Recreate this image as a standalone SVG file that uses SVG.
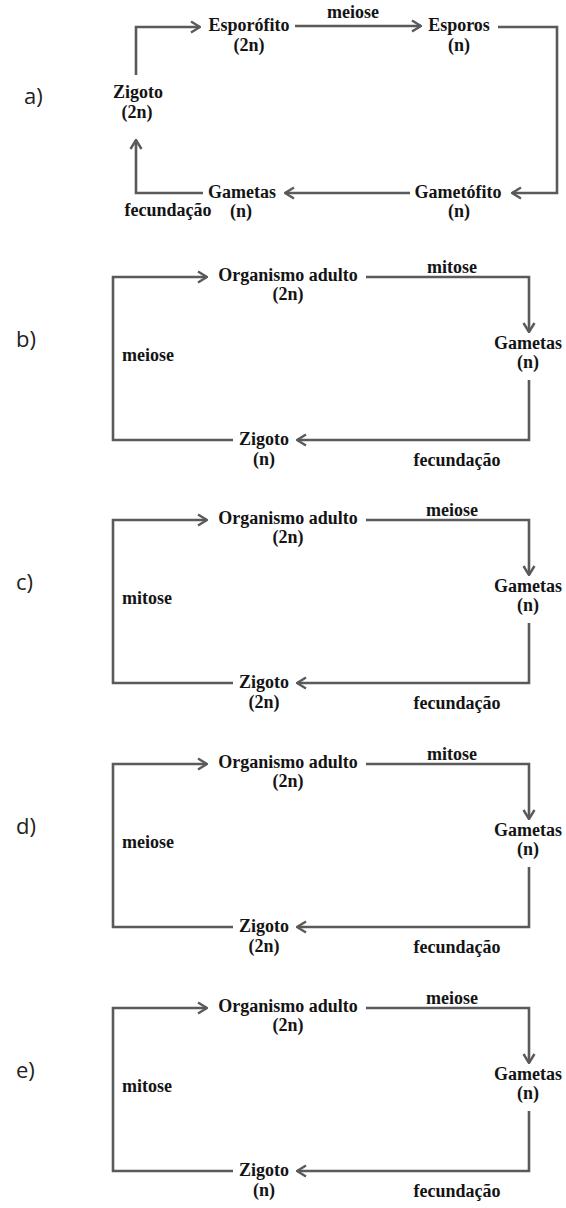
<svg xmlns="http://www.w3.org/2000/svg" width="566" height="1208" viewBox="0 0 566 1208">
<defs>
<marker id="ah" markerUnits="userSpaceOnUse" markerWidth="12" markerHeight="14" viewBox="0 0 12 14" refX="11" refY="7" orient="auto">
<path d="M2,1.5 L11,7 L2,12.5" fill="none" stroke="#5a5a5a" stroke-width="2.4" stroke-linejoin="miter"/>
</marker>
</defs>
<style>
.t{font-family:"Liberation Serif","Times New Roman",serif;font-weight:bold;font-size:18px;fill:#141414;text-anchor:middle}
.s{text-anchor:start}
.lab{font-family:"Open Sans","Noto Sans",sans-serif;font-size:22px;fill:#222}
.c{fill:none;stroke:#5a5a5a;stroke-width:2.6}
.a{marker-end:url(#ah)}
</style>
<rect width="566" height="1208" fill="#fff"/>

<!-- Panel a -->
<g id="panel-a">
<text class="lab" x="24" y="104">a)</text>
<g id="a-zigoto"><text class="t" x="138" y="98">Zigoto</text><text class="t" x="137" y="118">(2n)</text></g>
<g id="a-esporofito"><text class="t" x="249" y="31">Esporófito</text><text class="t" x="249" y="51">(2n)</text></g>
<g id="a-esporos"><text class="t" x="459" y="31">Esporos</text><text class="t" x="459" y="51">(n)</text></g>
<g id="a-gametofito"><text class="t" x="458" y="198">Gametófito</text><text class="t" x="459" y="217">(n)</text></g>
<g id="a-gametas"><text class="t" x="242" y="198">Gametas</text><text class="t" x="241" y="217">(n)</text></g>
<g id="a-connectors">
<path class="c a" d="M136,75 V27 H200"/>
<path class="c a" d="M295,26 H421"/>
<path class="c a" d="M498,27 H557 V193 H512"/>
<path class="c a" d="M410,193 H285"/>
<path class="c a" d="M203,193 H136 V140"/>
<text class="t" x="353" y="18">meiose</text>
<text class="t" x="168" y="216">fecundação</text>
</g>
</g>

<!-- Panel b -->
<g id="panel-b" transform="translate(0,277)">
<text class="lab" x="16" y="70">b)</text>
<g id="b-organismo"><text class="t" x="288" y="4">Organismo adulto</text><text class="t" x="288" y="23">(2n)</text></g>
<g id="b-gametas"><text class="t" x="528" y="72">Gametas</text><text class="t" x="528" y="91">(n)</text></g>
<g id="b-zigoto"><text class="t" x="264" y="168">Zigoto</text><text class="t" x="264" y="188">(n)</text></g>
<g id="b-connectors">
<path class="c a" d="M233,163 H113 V0 H207"/>
<path class="c a" d="M366,0 H529 V55"/>
<path class="c a" d="M529,103 V163 H297"/>
<text class="t" x="452" y="-4">mitose</text>
<text class="t s" x="122" y="84">meiose</text>
<text class="t" x="457" y="189">fecundação</text>
</g>
</g>

<!-- Panel c -->
<g id="panel-c" transform="translate(0,520)">
<text class="lab" x="16" y="70">c)</text>
<g id="c-organismo"><text class="t" x="288" y="4">Organismo adulto</text><text class="t" x="288" y="23">(2n)</text></g>
<g id="c-gametas"><text class="t" x="528" y="72">Gametas</text><text class="t" x="528" y="91">(n)</text></g>
<g id="c-zigoto"><text class="t" x="264" y="168">Zigoto</text><text class="t" x="264" y="188">(2n)</text></g>
<g id="c-connectors">
<path class="c a" d="M233,163 H113 V0 H207"/>
<path class="c a" d="M366,0 H529 V55"/>
<path class="c a" d="M529,103 V163 H297"/>
<text class="t" x="452" y="-4">meiose</text>
<text class="t s" x="122" y="84">mitose</text>
<text class="t" x="457" y="189">fecundação</text>
</g>
</g>

<!-- Panel d -->
<g id="panel-d" transform="translate(0,764)">
<text class="lab" x="16" y="70">d)</text>
<g id="d-organismo"><text class="t" x="288" y="4">Organismo adulto</text><text class="t" x="288" y="23">(2n)</text></g>
<g id="d-gametas"><text class="t" x="528" y="72">Gametas</text><text class="t" x="528" y="91">(n)</text></g>
<g id="d-zigoto"><text class="t" x="264" y="168">Zigoto</text><text class="t" x="264" y="188">(2n)</text></g>
<g id="d-connectors">
<path class="c a" d="M233,163 H113 V0 H207"/>
<path class="c a" d="M366,0 H529 V55"/>
<path class="c a" d="M529,103 V163 H297"/>
<text class="t" x="452" y="-4">mitose</text>
<text class="t s" x="122" y="84">meiose</text>
<text class="t" x="457" y="189">fecundação</text>
</g>
</g>

<!-- Panel e -->
<g id="panel-e" transform="translate(0,1008)">
<text class="lab" x="16" y="70">e)</text>
<g id="e-organismo"><text class="t" x="288" y="4">Organismo adulto</text><text class="t" x="288" y="23">(2n)</text></g>
<g id="e-gametas"><text class="t" x="528" y="72">Gametas</text><text class="t" x="528" y="91">(n)</text></g>
<g id="e-zigoto"><text class="t" x="264" y="168">Zigoto</text><text class="t" x="264" y="188">(n)</text></g>
<g id="e-connectors">
<path class="c a" d="M233,163 H113 V0 H207"/>
<path class="c a" d="M366,0 H529 V55"/>
<path class="c a" d="M529,103 V163 H297"/>
<text class="t" x="452" y="-4">meiose</text>
<text class="t s" x="122" y="84">mitose</text>
<text class="t" x="457" y="189">fecundação</text>
</g>
</g>
</svg>
